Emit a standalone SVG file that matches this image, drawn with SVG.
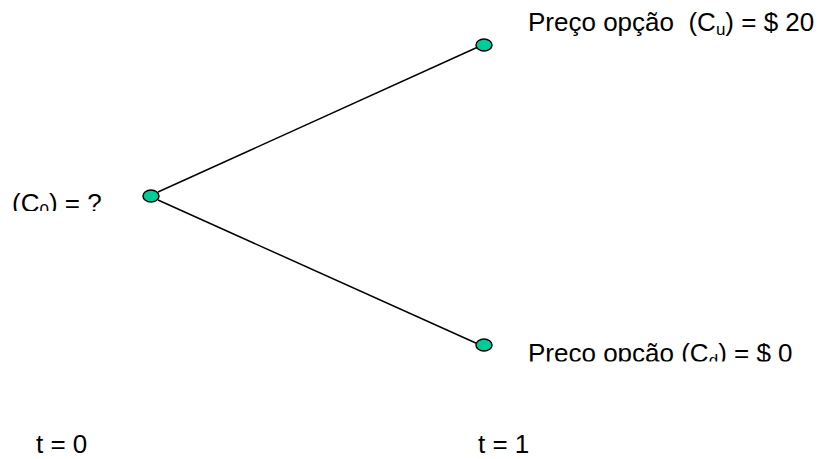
<svg xmlns="http://www.w3.org/2000/svg" width="823" height="459" viewBox="0 0 823 459">
<style>
.t{font-family:"Liberation Sans",Arial,sans-serif;font-size:26px;fill:#000}
.n{fill:#00cc99;stroke:#000;stroke-width:1.5}
.c{stroke:#000;stroke-width:1.5;fill:none}
</style>
<defs>
<clipPath id="clipL"><rect x="0" y="150" width="140" height="61"/></clipPath>
<clipPath id="clipD"><rect x="500" y="320" width="323" height="41.5"/></clipPath>
</defs>
<rect width="823" height="459" fill="#fff"/>
<g id="connectors">
<line class="c" x1="158" y1="192" x2="478" y2="47"/>
<line class="c" x1="158" y1="200" x2="478" y2="344"/>
</g>
<g id="node-c0">
<ellipse class="n" cx="151" cy="196" rx="8" ry="6"/>
<text class="t" x="12" y="212" clip-path="url(#clipL)">(C<tspan font-size="17" dy="4">0</tspan><tspan dy="-4">) = ?</tspan></text>
</g>
<g id="node-cu">
<ellipse class="n" cx="484" cy="45" rx="8" ry="6"/>
<text class="t" x="528" y="31" xml:space="preserve">Preço opção  (C<tspan font-size="17" dy="4">u</tspan><tspan dy="-4">) = $ 20</tspan></text>
</g>
<g id="node-cd">
<ellipse class="n" cx="484" cy="345" rx="8" ry="6"/>
<text class="t" x="528" y="362" clip-path="url(#clipD)">Preço opção (C<tspan font-size="17" dy="4">d</tspan><tspan dy="-4">) = $ 0</tspan></text>
</g>
<g id="time-labels">
<text class="t" x="36" y="453">t = 0</text>
<text class="t" x="478" y="453">t = 1</text>
</g>
</svg>
